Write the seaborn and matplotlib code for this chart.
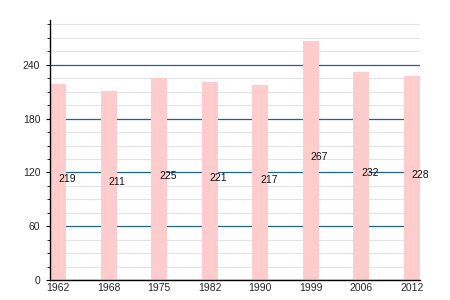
import matplotlib
matplotlib.use("Agg")
import matplotlib.pyplot as plt
import seaborn as sns
import pandas as pd
from matplotlib.ticker import MultipleLocator

years = ["1962", "1968", "1975", "1982", "1990", "1999", "2006", "2012"]
values = [219, 211, 225, 221, 217, 267, 232, 228]
yticks = [0, 60, 120, 180, 240]

sns.set_style("white")
plt.rcParams["font.family"] = ["Liberation Sans", "DejaVu Sans"]

df = pd.DataFrame({"year": years, "value": values})

fig = plt.figure(figsize=(4.5, 3), dpi=100)
ax = fig.add_axes([50/450, 20/300, 370/450, 260/300])

sns.barplot(data=df, x="year", y="value", color="#ffcccc", saturation=1,
            width=0.32, ax=ax, edgecolor="none")

ax.set_xlim(-0.16, len(years) - 1 + 0.16)
ax.set_ylim(0, 290)
ax.set_yticks(yticks)
ax.yaxis.set_minor_locator(MultipleLocator(15))
ax.set_axisbelow(True)
ax.grid(True, which="minor", axis="y", color="#e3e3e3", linewidth=0.8)
ax.grid(True, which="major", axis="y", color="#1a6690", linewidth=0.9)
ax.xaxis.grid(False)

for i, v in enumerate(values):
    ax.text(i, v / 2, str(v), ha="left", va="baseline", fontsize=7.5, color="#111111")

for s in ["top", "right"]:
    ax.spines[s].set_visible(False)
for s in ["left", "bottom"]:
    ax.spines[s].set_color("black")
    ax.spines[s].set_linewidth(1.0)

ax.tick_params(axis="y", which="major", direction="out", length=3, width=0.8,
               labelsize=7.5, pad=4, left=True, color="black")
ax.tick_params(axis="y", which="minor", direction="out", length=2, width=0.6,
               left=True, color="black")
ax.tick_params(axis="x", length=0, labelsize=7.5, pad=2)
ax.set_xlabel("")
ax.set_ylabel("")

fig.savefig("out.png", dpi=100)
